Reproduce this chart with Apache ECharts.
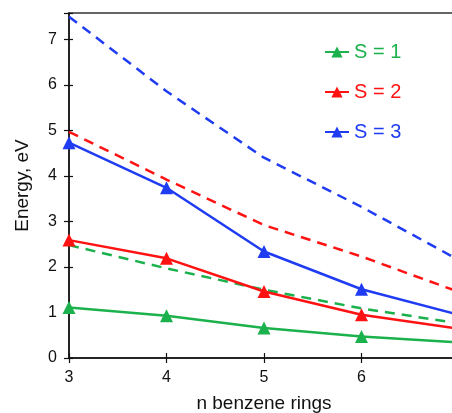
<!DOCTYPE html>
<html>
<head>
<meta charset="utf-8">
<script src="https://cdn.jsdelivr.net/npm/echarts@6/dist/echarts.min.js"></script>
<style>
  html, body { margin: 0; padding: 0; background: #fff; }
  #main { width: 452px; height: 413px; }
</style>
</head>
<body>
<div id="main"></div>
<script>
// n benzene rings (last point only continues the line, no marker)
var nRings = [3, 4, 5, 6, 7];
var yTicks = [0, 1, 2, 3, 4, 5, 6, 7];

// solid lines with triangles
var s1Solid = [1.11, 0.93, 0.66, 0.47, 0.34];
var s2Solid = [2.59, 2.19, 1.46, 0.95, 0.64];
var s3Solid = [4.73, 3.74, 2.34, 1.51, 0.95];

// dashed lines
var s1Dash = [2.48, 1.97, 1.50, 1.09, 0.76];
var s2Dash = [4.97, 3.92, 2.92, 2.23, 1.45];
var s3Dash = [7.50, 5.86, 4.40, 3.32, 2.15];

var green = '#1bb14c';
var red = '#ff1212';
var blue = '#1f3cf2';
var font = '"Liberation Sans", Arial, sans-serif';

function pts(vals, marks) {
  return vals.map(function (v, i) {
    var p = { value: [nRings[i], v] };
    if (!marks || i === vals.length - 1) p.symbolSize = 0;
    return p;
  });
}

function solid(name, vals, color) {
  return {
    name: name, type: 'line', data: pts(vals, true),
    symbol: 'triangle', symbolSize: 13, showAllSymbol: true,
    lineStyle: { color: color, width: 2.5 },
    itemStyle: { color: color },
    z: 3, animation: false
  };
}

function dashed(name, vals, color) {
  return {
    name: name, type: 'line', data: pts(vals, false),
    symbol: 'none',
    lineStyle: { color: color, width: 2.5, type: [10, 7] },
    itemStyle: { color: color },
    z: 2, animation: false
  };
}

var chart = echarts.init(document.getElementById('main'));

var yBase = { type: 'value', min: 0, max: 7.58, interval: 1, splitLine: { show: false } };
var xBase = { type: 'value', min: 3, max: 7, interval: 1, splitLine: { show: false } };

chart.setOption({
  backgroundColor: '#fff',
  // plot runs a little past the right edge of the picture, as in the original
  grid: {
    left: 69, top: 13, height: 345, width: 390, outerBoundsMode: 'none',
    show: true, borderColor: '#333', borderWidth: 1.5
  },
  legend: {
    orient: 'vertical', left: 319, top: 37, itemWidth: 24, itemHeight: 14, itemGap: 20,
    textStyle: { fontFamily: font, fontSize: 20 },
    data: [
      { name: 'S = 1', textStyle: { color: green } },
      { name: 'S = 2', textStyle: { color: red } },
      { name: 'S = 3', textStyle: { color: blue } }
    ]
  },
  xAxis: [
    Object.assign({}, xBase, {
      name: 'n benzene rings', nameLocation: 'middle', nameGap: 36,
      nameTextStyle: { fontFamily: font, fontSize: 19, color: '#111' },
      axisLine: { show: true, lineStyle: { color: '#111', width: 1.5 } },
      axisTick: { show: true, length: 5, lineStyle: { color: '#111', width: 1.2 } },
      axisLabel: {
        fontFamily: font, fontSize: 16, color: '#111', margin: 12,
        formatter: function (v) { return v < 7 ? String(v) : ''; }
      }
    }),
    Object.assign({}, xBase, {
      position: 'bottom',
      axisLine: { show: false },
      axisTick: { show: true, inside: true, length: 5, lineStyle: { color: '#111', width: 1.2 } },
      axisLabel: { show: false }
    })
  ],
  yAxis: [
    Object.assign({}, yBase, {
      name: 'Energy, eV', nameLocation: 'middle', nameGap: 37,
      nameTextStyle: { fontFamily: font, fontSize: 19, color: '#111' },
      axisLine: { show: true, lineStyle: { color: '#111', width: 1.5 } },
      axisTick: { show: true, length: 5, lineStyle: { color: '#111', width: 1.2 } },
      axisLabel: {
        fontFamily: font, fontSize: 16, color: '#111', margin: 12,
        formatter: function (v) { return yTicks.indexOf(v) >= 0 ? String(v) : ''; }
      }
    }),
    Object.assign({}, yBase, {
      position: 'left',
      axisLine: { show: false },
      axisTick: { show: true, inside: true, length: 4, lineStyle: { color: '#111', width: 1.2 } },
      axisLabel: { show: false }
    })
  ],
  series: [
    dashed('d1', s1Dash, green),
    dashed('d2', s2Dash, red),
    dashed('d3', s3Dash, blue),
    solid('S = 1', s1Solid, green),
    solid('S = 2', s2Solid, red),
    solid('S = 3', s3Solid, blue)
  ]
});
</script>
</body>
</html>
